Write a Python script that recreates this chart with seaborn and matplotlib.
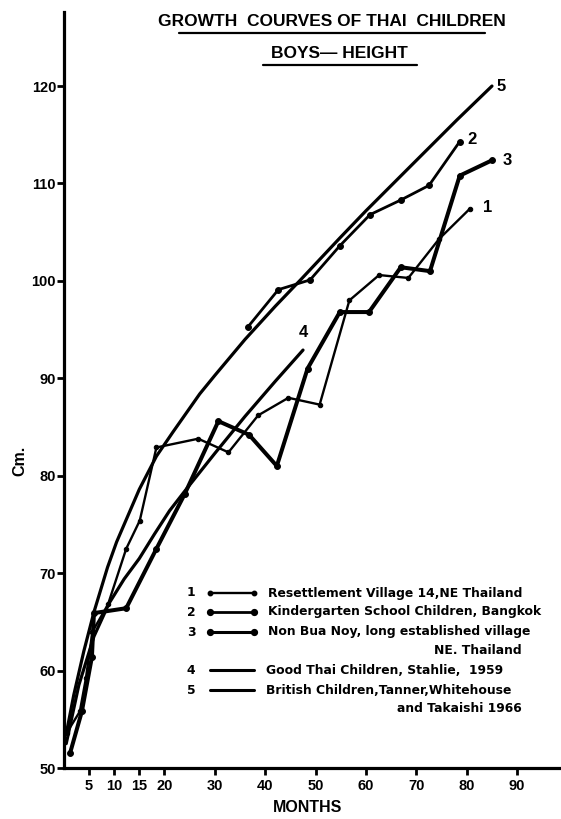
import matplotlib
matplotlib.use("Agg")
import matplotlib.pyplot as plt
from matplotlib.lines import Line2D
import seaborn as sns
import pandas as pd

# ---------------- data ----------------
# 1 Resettlement Village 14, NE Thailand
s1_months = [0.6, 3.2, 4.4, 5.7, 8.8, 12.4, 15.1, 18.4, 26.7, 32.7, 38.6, 44.6, 50.8, 56.7, 62.6, 68.4, 74.5, 80.6]
s1_cm = [53.6, 55.8, 59.2, 64.0, 66.8, 72.5, 75.4, 82.9, 83.8, 82.4, 86.2, 88.0, 87.3, 98.0, 100.6, 100.3, 104.3, 107.4]
# 2 Kindergarten School Children, Bangkok
s2_months = [36.6, 42.6, 48.9, 54.8, 60.8, 66.9, 72.5, 78.6]
s2_cm = [95.3, 99.1, 100.1, 103.6, 106.8, 108.3, 109.8, 114.3]
# 3 Non Bua Noy
s3_months = [1.25, 3.6, 5.6, 6.0, 12.4, 18.4, 24.0, 30.7, 36.8, 42.3, 48.4, 54.8, 60.6, 66.9, 72.7, 78.6, 85.1]
s3_cm = [51.5, 55.8, 61.4, 65.9, 66.4, 72.5, 78.1, 85.6, 84.2, 81.0, 91.0, 96.8, 96.8, 101.4, 101.0, 110.8, 112.4]
# 4 Good Thai Children, Stahlie 1959
s4_months = [0.5, 3, 6, 9, 12, 15, 18, 21, 24, 30, 36, 42, 47.5]
s4_cm = [52.5, 58.5, 63.5, 66.9, 69.4, 71.5, 74.0, 76.4, 78.4, 82.3, 86.1, 89.7, 92.9]
# 5 British Children, Tanner, Whitehouse and Takaishi 1966
s5_months = [0.5, 2, 4, 6, 8.7, 10.5, 15, 18.4, 21.7, 27, 30, 36, 42, 47, 54.8, 60, 68.7, 78, 85]
s5_cm = [53.5, 57.5, 62.0, 66.0, 70.6, 73.2, 78.6, 82.0, 84.5, 88.4, 90.3, 94.0, 97.4, 100.1, 104.4, 107.2, 111.7, 116.5, 120.0]

series_ids = ["1", "2", "3", "4", "5"]
legend_labels = [
    "Resettlement Village 14,NE Thailand",
    "Kindergarten School Children, Bangkok",
    "Non Bua Noy, long established village",
    "Good Thai Children, Stahlie,  1959",
    "British Children,Tanner,Whitehouse",
]
legend_continuations = {"3": "NE. Thailand", "5": "and Takaishi 1966"}

y_ticks = [50, 60, 70, 80, 90, 100, 110, 120]
x_ticks = [5, 10, 15, 20, 30, 40, 50, 60, 70, 80, 90]

title_1 = "GROWTH  COURVES OF THAI  CHILDREN"
title_2 = "BOYS\u2014 HEIGHT"
x_label = "MONTHS"
y_label = "Cm."

# ---------------- styling ----------------
sns.set_theme(style="white")
plt.rcParams['font.family'] = ['Liberation Sans', 'DejaVu Sans']
plt.rcParams['font.weight'] = 'bold'
plt.rcParams['text.color'] = 'black'
plt.rcParams['axes.labelcolor'] = 'black'
plt.rcParams['xtick.color'] = 'black'
plt.rcParams['ytick.color'] = 'black'

W, H = 561, 819
fig = plt.figure(figsize=(W / 100, H / 100), dpi=100)
fig.patch.set_facecolor("white")
ax = fig.add_axes([63.7 / W, 51 / H, (W - 63.7) / W, 756 / H])
ax.set_facecolor("white")

styles = {
    "1": dict(lw=1.7, marker="o", ms=3.2),
    "2": dict(lw=2.0, marker="o", ms=4.2),
    "3": dict(lw=2.9, marker="o", ms=4.2),
    "4": dict(lw=2.3, marker=None, ms=0),
    "5": dict(lw=2.3, marker=None, ms=0),
}
data = {
    "1": (s1_months, s1_cm),
    "2": (s2_months, s2_cm),
    "3": (s3_months, s3_cm),
    "4": (s4_months, s4_cm),
    "5": (s5_months, s5_cm),
}
label_offsets = {"1": (12.5, 0.7), "2": (8.5, 1.5), "3": (10.8, 0), "4": (0, 12.5), "5": (6.5, 0)}

for sid in series_ids:
    m, c = data[sid]
    df = pd.DataFrame({"month": m, "cm": c})
    st = styles[sid]
    kw = dict(color="black", linewidth=st["lw"], estimator=None, sort=False, legend=False, ax=ax)
    if st["marker"]:
        kw.update(marker=st["marker"], markersize=st["ms"], markeredgecolor="black",
                  markerfacecolor="black")
    sns.lineplot(data=df, x="month", y="cm", **kw)
    ax.annotate(sid, xy=(m[-1], c[-1]), xytext=label_offsets[sid], textcoords="offset points",
                ha="center", va="center", fontsize=12, fontweight="bold", color="black")

ax.set_xlim(0, 98.7)
ax.set_ylim(50, 127.6)
ax.set_xticks(x_ticks)
ax.set_yticks(y_ticks)
ax.set_xticklabels([str(v) for v in x_ticks], fontweight="bold", fontsize=10.5)
ax.set_yticklabels([str(v) for v in y_ticks], fontweight="bold", fontsize=10.5)
ax.tick_params(axis="both", direction="out", length=5, width=2, color="black", labelcolor="black")
ax.tick_params(axis="y", pad=0.5)
ax.tick_params(axis="x", pad=3)
ax.tick_params(left=True, bottom=True)
for s in ["top", "right"]:
    ax.spines[s].set_visible(False)
for s in ["left", "bottom"]:
    ax.spines[s].set_visible(True)
    ax.spines[s].set_color("black")
    ax.spines[s].set_linewidth(2.3)
ax.grid(False)

ax.set_xlabel(x_label, fontsize=11.5, fontweight="bold", color="black")
ax.xaxis.set_label_coords((308 - 63.7) / (W - 63.7), (768 - 807) / 756)
ax.xaxis.label.set_verticalalignment("center")
ax.set_ylabel(y_label, fontsize=11.5, fontweight="bold", color="black")
ax.yaxis.set_label_coords((20 - 63.7) / (W - 63.7), (768 - 461) / 756)
ax.yaxis.label.set_verticalalignment("center")
ax.yaxis.label.set_horizontalalignment("center")

# ---------------- title ----------------
fig.text(332 / W, 1 - 22 / H, title_1, ha="center", va="center", fontsize=12.5, fontweight="bold",
         color="black")
fig.add_artist(Line2D([179 / W, 485 / W], [1 - 33 / H] * 2, transform=fig.transFigure, color="black", lw=1.6))
fig.text(339 / W, 1 - 53 / H, title_2, ha="center", va="center", fontsize=12.5, fontweight="bold",
         color="black")
fig.add_artist(Line2D([263 / W, 417 / W], [1 - 65 / H] * 2, transform=fig.transFigure, color="black", lw=1.6))

# ---------------- legend (drawn inside plot area) ----------------
row_y = {"1": 593, "2": 612, "3": 632, "4": 670, "5": 690}
cont_y = {"3": 650, "5": 708}
fs_leg = 8.9
leg_font = ["DejaVu Sans"]
for sid, lab in zip(series_ids, legend_labels):
    yy = 1 - row_y[sid] / H
    fig.text(191 / W, yy, sid, ha="center", va="center", fontsize=fs_leg, fontweight="bold",
             family=leg_font, color="black")
    st = styles[sid]
    kw = dict(transform=fig.transFigure, color="black", lw=min(st["lw"], 2.2))
    if st["marker"]:
        kw.update(marker=st["marker"], markersize=st["ms"], markerfacecolor="black", markeredgecolor="black")
    fig.add_artist(Line2D([210 / W, 254 / W], [yy, yy], **kw))
    x_text = 268 if sid in ("1", "2", "3") else 266
    fig.text(x_text / W, yy, lab, ha="left", va="center", fontsize=fs_leg, fontweight="bold",
             family=leg_font, color="black")
    if sid in legend_continuations:
        fig.text(522 / W, 1 - cont_y[sid] / H, legend_continuations[sid], ha="right", va="center",
                 fontsize=fs_leg, fontweight="bold", family=leg_font, color="black")

fig.savefig("out.png", dpi=100, facecolor="white")
